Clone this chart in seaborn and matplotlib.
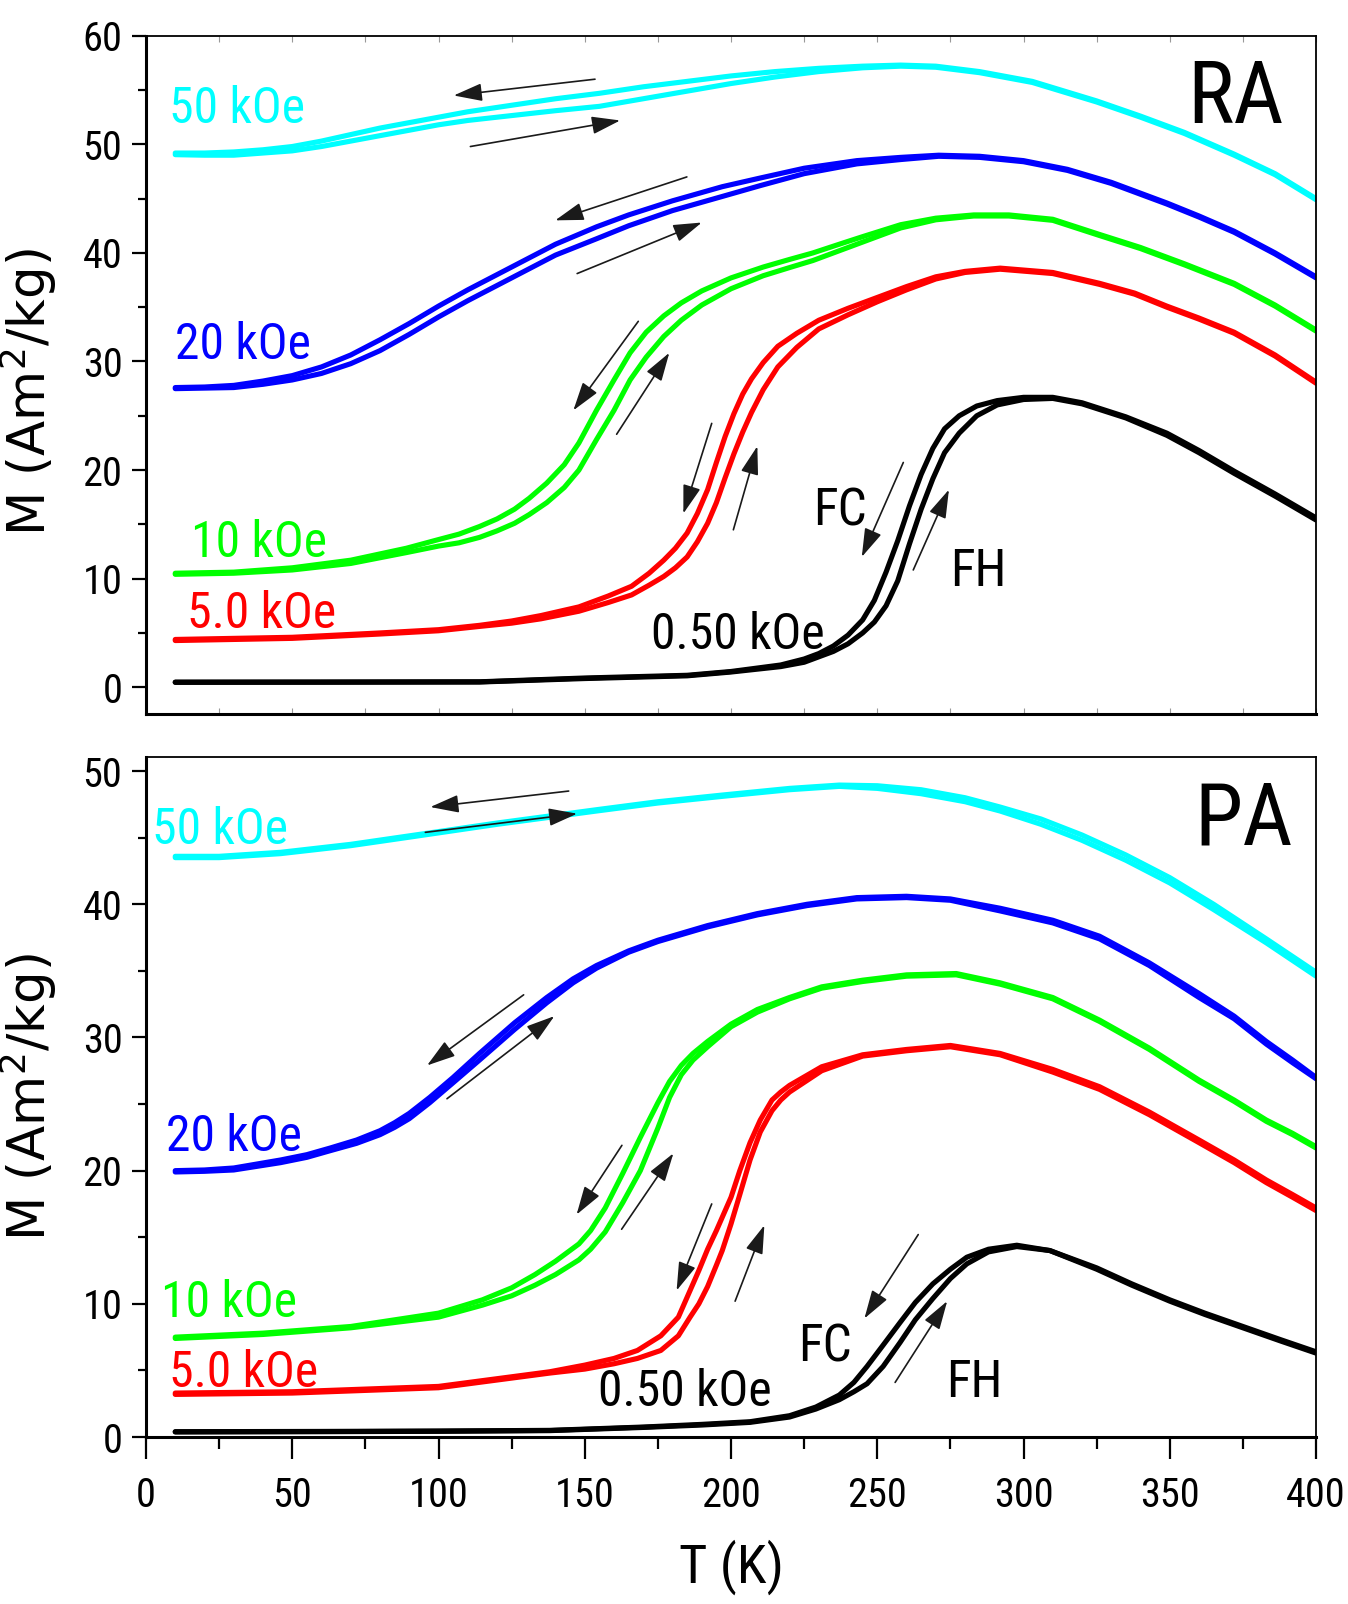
import matplotlib
matplotlib.use('Agg')
import matplotlib.pyplot as plt
import matplotlib.font_manager as fm
import seaborn as sns
from matplotlib.ticker import MultipleLocator

# ---------------- data (T in K, M in Am2/kg) ----------------
# RA sample
ra_cyan_T = [10, 20, 30, 40, 50, 60, 70, 80, 90, 100, 110, 120, 130, 140, 155, 170, 185, 200, 215, 230, 245,
             258, 270, 285, 303, 325, 340, 355, 372, 386, 400]
ra_cyan_fc = [49.2, 49.2, 49.3, 49.5, 49.8, 50.3, 50.9, 51.5, 52.0, 52.5, 53.0, 53.4, 53.8, 54.2, 54.7, 55.3,
              55.8, 56.3, 56.7, 57.0, 57.2, 57.3, 57.2, 56.7, 55.8, 54.0, 52.6, 51.1, 49.1, 47.3, 45.0]
ra_cyan_fh = [49.05, 49.0, 49.0, 49.2, 49.4, 49.8, 50.3, 50.8, 51.3, 51.8, 52.2, 52.5, 52.8, 53.1, 53.5, 54.2,
              54.9, 55.6, 56.2, 56.7, 57.05, 57.2, 57.1, 56.6, 55.7, 53.9, 52.5, 51.0, 49.0, 47.2, 44.9]

ra_blue_T = [10, 20, 30, 40, 50, 60, 70, 80, 90, 100, 110, 120, 130, 140, 154, 165, 180, 197, 210, 225, 243,
             258, 271, 285, 300, 315, 330, 349, 360, 372, 386, 400]
ra_blue_fc = [27.6, 27.65, 27.8, 28.2, 28.7, 29.5, 30.6, 32.0, 33.5, 35.1, 36.6, 38.0, 39.4, 40.8, 42.4, 43.5,
              44.8, 46.1, 46.9, 47.8, 48.5, 48.8, 49.0, 48.9, 48.5, 47.7, 46.5, 44.6, 43.4, 42.0, 40.0, 37.8]
ra_blue_fh = [27.5, 27.55, 27.6, 27.9, 28.3, 28.9, 29.8, 31.0, 32.5, 34.1, 35.6, 37.0, 38.4, 39.8, 41.3, 42.5,
              43.9, 45.2, 46.2, 47.3, 48.2, 48.6, 48.9, 48.8, 48.4, 47.6, 46.4, 44.5, 43.3, 41.9, 39.9, 37.7]

ra_green_T = [10, 30, 50, 70, 89, 100, 107, 114, 120, 126, 131, 137, 143, 148, 154, 160, 165.5, 171, 177, 183,
              190, 200, 211, 220, 228, 237, 245, 258, 270, 283, 295, 310, 326, 340, 355, 372, 386, 400]
ra_green_fc = [10.5, 10.6, 11.0, 11.7, 12.8, 13.6, 14.1, 14.8, 15.5, 16.4, 17.4, 18.8, 20.5, 22.5, 25.5, 28.3,
               30.8, 32.7, 34.2, 35.4, 36.5, 37.7, 38.7, 39.4, 40.0, 40.8, 41.5, 42.6, 43.2, 43.5, 43.5, 43.1,
               41.7, 40.5, 39.0, 37.2, 35.2, 32.9]
ra_green_fh = [10.4, 10.5, 10.8, 11.4, 12.4, 13.0, 13.3, 13.8, 14.4, 15.1, 15.9, 17.0, 18.4, 20.0, 22.8, 25.5,
               28.3, 30.4, 32.3, 33.8, 35.2, 36.7, 37.9, 38.65, 39.3, 40.2, 41.0, 42.3, 43.05, 43.4, 43.4, 43.0,
               41.6, 40.4, 38.9, 37.1, 35.1, 32.8]

ra_red_T = [10, 50, 80, 100, 114, 125, 135, 148, 158, 166, 172, 177, 181, 185, 188.5, 192, 195, 198, 201, 204,
            207, 211, 216, 222.5, 230, 240, 250, 260, 270, 280, 292, 310, 326, 338, 349, 360, 372, 386, 400]
ra_red_fc = [4.4, 4.6, 5.0, 5.3, 5.7, 6.1, 6.6, 7.4, 8.4, 9.3, 10.5, 11.7, 12.8, 14.2, 16.0, 18.2, 20.7, 23.1,
             25.2, 27.0, 28.4, 29.9, 31.4, 32.6, 33.8, 34.9, 35.9, 36.9, 37.8, 38.3, 38.6, 38.2, 37.2, 36.3,
             35.1, 34.0, 32.7, 30.6, 28.1]
ra_red_fh = [4.3, 4.5, 4.9, 5.2, 5.6, 5.9, 6.3, 7.0, 7.8, 8.5, 9.4, 10.2, 11.0, 12.0, 13.4, 15.1, 17.0, 19.3,
             21.5, 23.5, 25.3, 27.4, 29.5, 31.3, 33.0, 34.3, 35.5, 36.6, 37.6, 38.2, 38.5, 38.1, 37.1, 36.2,
             35.0, 33.9, 32.6, 30.5, 28.0]

ra_black_T = [10, 60, 114, 150, 185, 200, 217, 225, 230, 235, 240, 245, 249, 253, 257, 261, 265, 269, 273, 278,
              284, 291, 300, 310, 320, 335, 349, 360, 372, 386, 400]
ra_black_fc = [0.47, 0.48, 0.5, 0.85, 1.1, 1.45, 2.05, 2.6, 3.1, 3.8, 4.8, 6.2, 8.0, 10.6, 13.5, 16.7, 19.6,
               22.0, 23.8, 25.0, 25.9, 26.4, 26.7, 26.7, 26.2, 24.9, 23.4, 21.8, 19.9, 17.8, 15.6]
ra_black_fh = [0.45, 0.46, 0.48, 0.8, 1.05, 1.4, 1.9, 2.3, 2.8, 3.3, 4.0, 5.0, 6.0, 7.5, 9.8, 13.2, 16.4, 19.2,
               21.6, 23.4, 25.0, 26.0, 26.5, 26.6, 26.1, 24.8, 23.2, 21.6, 19.7, 17.6, 15.4]

# PA sample
pa_cyan_T = [10, 25, 46, 70, 92, 120, 154, 175, 197, 220, 237, 250, 265, 280, 292, 306, 320, 335, 350, 365, 383,
             400]
pa_cyan_fc = [43.6, 43.6, 43.9, 44.5, 45.2, 46.1, 47.1, 47.7, 48.2, 48.7, 48.95, 48.9, 48.6, 48.0, 47.3, 46.4,
              45.2, 43.7, 42.0, 40.0, 37.4, 34.9]
pa_cyan_fh = [43.5, 43.5, 43.8, 44.4, 45.1, 46.0, 47.0, 47.6, 48.1, 48.6, 48.85, 48.7, 48.3, 47.7, 47.0, 46.0,
              44.8, 43.3, 41.6, 39.6, 37.1, 34.6]

pa_blue_T = [10, 20, 30, 46, 55, 63, 72, 80, 85, 90, 97, 105, 114, 126, 137, 146, 154, 165, 175, 192, 209, 226,
             243, 260, 275, 292, 310, 326, 343, 360, 372, 383, 392, 400]
pa_blue_fc = [20.0, 20.05, 20.2, 20.8, 21.2, 21.7, 22.3, 23.0, 23.6, 24.3, 25.5, 27.0, 28.8, 31.1, 33.0, 34.4,
              35.4, 36.5, 37.3, 38.4, 39.3, 40.0, 40.5, 40.6, 40.4, 39.7, 38.8, 37.6, 35.6, 33.3, 31.6, 29.7,
              28.3, 27.0]
pa_blue_fh = [19.9, 19.95, 20.05, 20.6, 21.0, 21.5, 22.05, 22.7, 23.25, 23.9, 25.1, 26.6, 28.3, 30.6, 32.6,
              34.1, 35.2, 36.4, 37.2, 38.3, 39.2, 39.9, 40.4, 40.5, 40.3, 39.5, 38.6, 37.4, 35.4, 33.0, 31.4,
              29.5, 28.1, 26.9]

pa_green_T = [10, 40, 70, 100, 115, 125, 133, 140, 148, 152, 157, 163, 169, 175, 179, 183, 187, 192, 200, 209,
              220, 231, 245, 260, 277, 292, 310, 326, 343, 360, 372, 383, 392, 400]
pa_green_fc = [7.5, 7.8, 8.3, 9.3, 10.3, 11.2, 12.2, 13.2, 14.5, 15.5, 17.2, 19.8, 22.5, 25.1, 26.7, 27.9, 28.8,
               29.7, 31.0, 32.1, 33.0, 33.8, 34.3, 34.7, 34.8, 34.1, 33.0, 31.3, 29.2, 26.8, 25.3, 23.8, 22.8,
               21.8]
pa_green_fh = [7.4, 7.7, 8.2, 9.0, 9.9, 10.6, 11.4, 12.2, 13.3, 14.1, 15.4, 17.6, 20.0, 23.2, 25.5, 27.2, 28.3,
               29.3, 30.8, 31.9, 32.9, 33.7, 34.2, 34.6, 34.7, 34.0, 32.9, 31.2, 29.1, 26.7, 25.2, 23.7, 22.7,
               21.7]

pa_red_T = [10, 50, 100, 138, 150, 160, 168, 176, 182, 186, 189, 192, 195, 197, 200, 203, 206.5, 210, 214, 217,
            220, 231, 245, 260, 275, 292, 310, 326, 343, 360, 372, 383, 392, 400]
pa_red_fc = [3.3, 3.4, 3.8, 4.9, 5.4, 5.9, 6.5, 7.6, 9.0, 11.0, 12.5, 14.1, 15.5, 16.5, 18.0, 20.0, 22.1, 23.8,
             25.3, 25.9, 26.4, 27.8, 28.7, 29.1, 29.4, 28.8, 27.6, 26.3, 24.4, 22.3, 20.8, 19.3, 18.2, 17.2]
pa_red_fh = [3.2, 3.3, 3.7, 4.8, 5.1, 5.5, 5.9, 6.5, 7.6, 9.0, 10.0, 11.3, 12.9, 14.0, 16.0, 18.2, 20.8, 22.9,
             24.5, 25.3, 25.9, 27.5, 28.6, 29.0, 29.3, 28.7, 27.4, 26.1, 24.2, 22.1, 20.6, 19.1, 18.0, 17.0]

pa_black_T = [10, 60, 100, 138, 170, 190, 206.5, 220, 229, 237, 242, 246.5, 252, 257.8, 263, 269, 275, 280.6,
              288, 297.7, 309, 325, 337, 350, 362, 375, 388, 400]
pa_black_fc = [0.4, 0.42, 0.45, 0.5, 0.75, 0.95, 1.15, 1.6, 2.25, 3.15, 4.1, 5.3, 6.9, 8.6, 10.1, 11.5, 12.6,
               13.5, 14.1, 14.4, 14.0, 12.7, 11.5, 10.3, 9.3, 8.3, 7.3, 6.4]
pa_black_fh = [0.38, 0.4, 0.43, 0.48, 0.72, 0.9, 1.1, 1.5, 2.1, 2.8, 3.4, 4.0, 5.3, 7.1, 8.8, 10.4, 11.9, 13.0,
               13.9, 14.3, 14.0, 12.6, 11.4, 10.2, 9.2, 8.2, 7.2, 6.3]

field_labels = ['50 kOe', '20 kOe', '10 kOe', '5.0 kOe', '0.50 kOe']
field_colors = ['#00FFFF', '#0000FF', '#00FF00', '#FF0000', '#000000']

# label anchors (T, M): left edge / vertical centre
ra_label_pos = [(8, 53.3), (10, 31.5), (15.5, 13.3), (14, 6.75), (172.5, 4.8)]
pa_label_pos = [(2, 45.6), (7, 22.5), (5, 10.1), (8, 4.8), (154.5, 3.4)]

# arrows: (T, M) start -> (T, M) head
ra_arrow_start = [(153.5, 56.0), (110.9, 49.8), (184.9, 47.0), (147.4, 38.1), (168.3, 33.7), (160.9, 23.3),
                  (193.4, 24.3), (200.8, 14.5), (258.9, 20.7), (262.3, 10.8)]
ra_arrow_end = [(105.2, 54.5), (162.1, 52.2), (139.9, 43.0), (190.0, 42.8), (146.1, 25.5), (178.9, 30.8),
                (183.7, 16.0), (209.0, 22.2), (244.7, 12.0), (274.5, 18.2)]
pa_arrow_start = [(144.5, 48.5), (95.5, 45.4), (129.1, 33.2), (102.9, 25.4), (162.7, 21.9), (162.6, 15.6),
                  (193.4, 17.5), (201.4, 10.2), (264.0, 15.2), (256.1, 4.1)]
pa_arrow_end = [(97.2, 47.3), (147.4, 46.8), (96.1, 27.9), (139.6, 31.6), (147.2, 16.7), (180.3, 21.3),
                (181.4, 11.0), (211.4, 15.9), (245.6, 8.9), (273.9, 10.2)]

ra_fcfh_pos = [(228, 16.2), (275, 10.6)]
pa_fcfh_pos = [(223, 6.7), (273.5, 4.05)]

# ---------------- plotting ----------------
sns.set_theme(style='ticks')

# pick the narrowest sans family that is installed
available = {f.name for f in fm.fontManager.ttflist}
narrow_pref = ['Roboto Condensed', 'Noto Sans Condensed', 'Liberation Sans Narrow', 'DejaVu Sans Condensed',
               'Liberation Sans']
NARROW = next((f for f in narrow_pref if f in available), 'DejaVu Sans')
k = 1.0 if NARROW in ('Liberation Sans', 'DejaVu Sans') else 1.12

plt.rcParams['font.family'] = [NARROW, 'DejaVu Sans']
plt.rcParams.update({'text.color': 'black', 'axes.labelcolor': 'black',
                     'xtick.color': 'black', 'ytick.color': 'black'})

fig = plt.figure(figsize=(13.48, 16.04), dpi=100)
ax_ra = fig.add_axes([0.1083, 0.5549, 0.868, 0.4228])
ax_pa = fig.add_axes([0.1083, 0.1041, 0.868, 0.4239])

ra_curves = [(ra_cyan_T, ra_cyan_fc, ra_cyan_fh), (ra_blue_T, ra_blue_fc, ra_blue_fh),
             (ra_green_T, ra_green_fc, ra_green_fh), (ra_red_T, ra_red_fc, ra_red_fh),
             (ra_black_T, ra_black_fc, ra_black_fh)]
pa_curves = [(pa_cyan_T, pa_cyan_fc, pa_cyan_fh), (pa_blue_T, pa_blue_fc, pa_blue_fh),
             (pa_green_T, pa_green_fc, pa_green_fh), (pa_red_T, pa_red_fc, pa_red_fh),
             (pa_black_T, pa_black_fc, pa_black_fh)]

arrow_style = dict(arrowstyle='-|>,head_length=0.8,head_width=0.25', color='k', lw=1.2,
                   mutation_scale=22, shrinkA=0, shrinkB=0)

panels = [(ax_ra, ra_curves, ra_label_pos, ra_arrow_start, ra_arrow_end, ra_fcfh_pos, 'RA', (389, 54.2)),
          (ax_pa, pa_curves, pa_label_pos, pa_arrow_start, pa_arrow_end, pa_fcfh_pos, 'PA', (392, 46.3))]

for ax, curves, lab_pos, a_start, a_end, fcfh_pos, name, name_pos in panels:
    for (T, fc, fh), col in zip(curves, field_colors):
        sns.lineplot(x=T, y=fc, ax=ax, color=col, lw=3.7, sort=False, estimator=None)
        sns.lineplot(x=T, y=fh, ax=ax, color=col, lw=3.7, sort=False, estimator=None)
    for txt, col, (tx, ty) in zip(field_labels, field_colors, lab_pos):
        ax.text(tx, ty, txt, color=col, fontsize=32 * k, ha='left', va='center')
    for s, e in zip(a_start, a_end):
        ax.annotate('', xy=e, xytext=s, arrowprops=arrow_style)
    ax.text(fcfh_pos[0][0], fcfh_pos[0][1], 'FC', fontsize=33 * k, ha='left', va='center')
    ax.text(fcfh_pos[1][0], fcfh_pos[1][1], 'FH', fontsize=33 * k, ha='left', va='center')
    ax.text(name_pos[0], name_pos[1], name, fontsize=56 * k, ha='right', va='center')

    ax.set_xlim(0, 400)
    ax.yaxis.set_major_locator(MultipleLocator(10))
    ax.yaxis.set_minor_locator(MultipleLocator(5))
    ax.tick_params(axis='y', which='major', direction='out', length=10, width=1.6, labelsize=26 * k, pad=7)
    ax.tick_params(axis='y', which='minor', direction='out', length=5.5, width=1.6)
    ax.set_ylabel('M (Am$^2$/kg)', family='DejaVu Sans', fontsize=37)
    for side in ['left', 'bottom']:
        ax.spines[side].set_linewidth(2.2)
    for side in ['top', 'right']:
        ax.spines[side].set_linewidth(1.3)
    for sp in ax.spines.values():
        sp.set_color('black')
        sp.set_visible(True)

ax_ra.set_ylim(-2.46, 60)
ax_ra.set_xlabel('')
ax_ra.xaxis.set_major_locator(MultipleLocator(25))
ax_ra.tick_params(axis='x', which='both', direction='in', length=4, width=0.8, color='#999999',
                  top=True, labelbottom=False)
ax_ra.yaxis.set_label_coords(-0.074, 0.475)

ax_pa.set_ylim(0, 51.05)
ax_pa.xaxis.set_major_locator(MultipleLocator(50))
ax_pa.xaxis.set_minor_locator(MultipleLocator(25))
ax_pa.tick_params(axis='x', which='major', direction='out', length=16, width=1.6, labelsize=26 * k, pad=12)
ax_pa.tick_params(axis='x', which='minor', direction='out', length=8.5, width=1.6)
ax_pa.set_xlabel('T (K)', fontsize=35 * k)
ax_pa.xaxis.set_label_coords(0.5, -0.15)
ax_pa.yaxis.set_label_coords(-0.074, 0.5)

fig.savefig('out.png', dpi=100, facecolor='white')
